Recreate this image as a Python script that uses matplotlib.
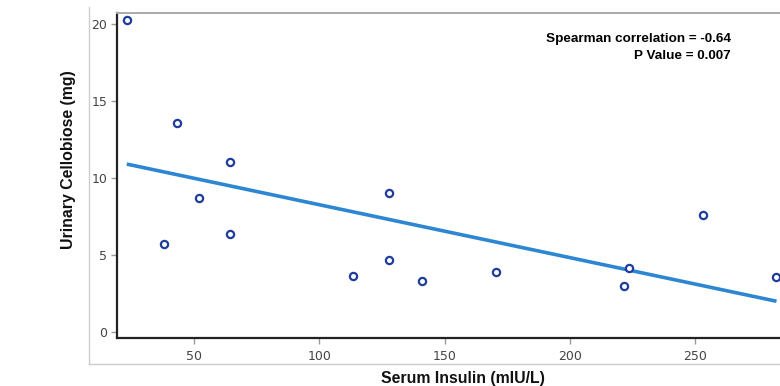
import numpy as np
import matplotlib
matplotlib.use("Agg")
import matplotlib.pyplot as plt
from matplotlib.lines import Line2D

# Data
insulin = [23.2, 43.4, 38.2, 51.9, 64.2, 64.2, 113.3, 127.8, 127.8, 140.8,
           170.5, 221.6, 223.3, 252.8, 282.3]
cellobiose = [20.3, 13.6, 5.77, 8.75, 11.07, 6.4, 3.69, 9.03, 4.73, 3.32,
              3.95, 2.99, 4.17, 7.62, 3.63]
x_ticks = [50, 100, 150, 200, 250]
y_ticks = [0, 5, 10, 15, 20]
annot_lines = ["Spearman correlation = -0.64", "P Value = 0.007"]

fig = plt.figure(figsize=(7.8, 3.86), dpi=100)
ax = fig.add_axes([117/780, 1-338/386, 1-117/780, (338-13)/386])

x = np.array(insulin)
y = np.array(cellobiose)
slope, intercept = np.polyfit(x, y, 1)
xl = np.array([x.min(), x.max()])
ax.plot(xl, intercept + slope*xl, color='#2d86d2', lw=2.6, zorder=2, solid_capstyle='butt')
ax.plot(x, y, linestyle='none', marker='o', ms=5.2, mfc='white', mec='#1e3d9c', mew=1.6, zorder=3)

ax.set_xlim(19.3, 283.7)
ax.set_ylim(-0.36, 20.73)
ax.set_xticks(x_ticks)
ax.set_yticks(y_ticks)
ax.tick_params(axis='both', direction='out', length=4, width=1, color='#999999',
               labelcolor='#444444', labelsize=9)
ax.tick_params(axis='x', pad=5)
ax.tick_params(axis='y', pad=3)
for lab in ax.get_xticklabels() + ax.get_yticklabels():
    lab.set_family('DejaVu Sans')

for s in ['left', 'bottom']:
    ax.spines[s].set_color('#222222')
    ax.spines[s].set_linewidth(1.6)
ax.spines['top'].set_color('#aaaaaa')
ax.spines['top'].set_linewidth(1.4)
ax.spines['right'].set_visible(False)

ax.set_xlabel('Serum Insulin (mIU/L)', fontsize=11.4, fontweight='bold',
              family='Liberation Sans', color='#111111')
ax.xaxis.set_label_coords((463-117)/663, (338-378)/325)
ax.xaxis.label.set_va('center')
ax.set_ylabel('Urinary Cellobiose (mg)', fontsize=11.4, fontweight='bold',
              family='Liberation Sans', color='#111111')
ax.yaxis.set_label_coords((68-117)/663, (338-160)/325)
ax.yaxis.label.set_va('center')

ax.text((731-117)/663, (338-39)/325, annot_lines[0], transform=ax.transAxes,
        ha='right', va='center', fontsize=9.7, fontweight='bold', family='Liberation Sans')
ax.text((731-117)/663, (338-56)/325, annot_lines[1], transform=ax.transAxes,
        ha='right', va='center', fontsize=9.7, fontweight='bold', family='Liberation Sans')

# outer light frame
fig.add_artist(Line2D([89/780, 89/780], [1-7/386, 1-364/386], transform=fig.transFigure,
                      color='#cccccc', lw=1.0))
fig.add_artist(Line2D([89/780, 1.0], [1-364/386, 1-364/386], transform=fig.transFigure,
                      color='#cccccc', lw=1.0))

fig.savefig('out.png', dpi=100)
